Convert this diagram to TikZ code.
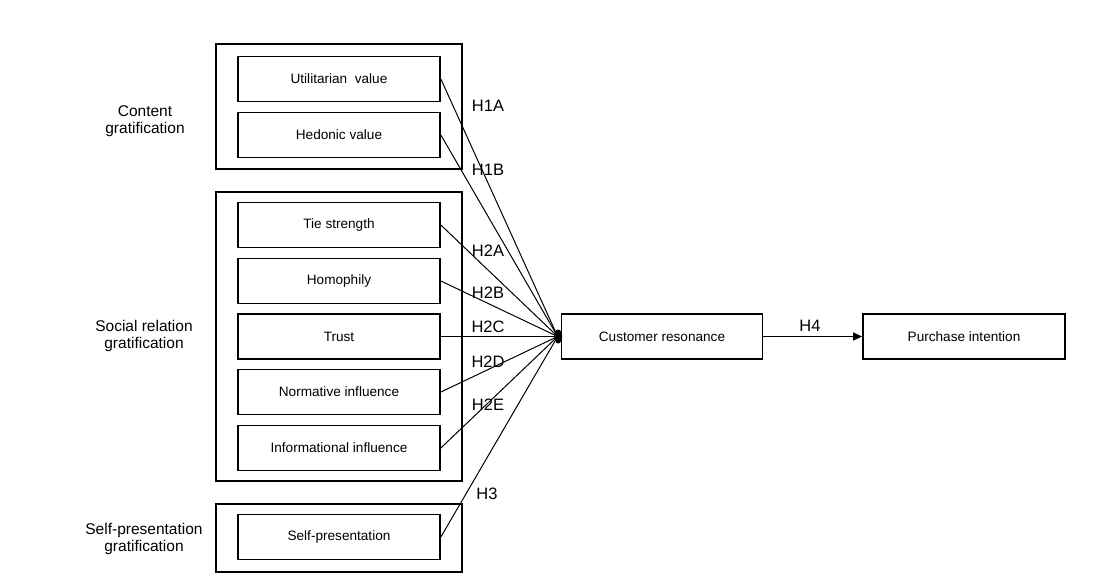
\documentclass[tikz,border=0pt]{standalone}
\usepackage{fontspec}
\setmainfont{Liberation Sans}
\usetikzlibrary{arrows.meta}
\begin{document}
\begin{tikzpicture}[x=1pt,y=-1pt,
  innerbox/.style={draw, line width=1.7pt, minimum width=202pt, minimum height=45pt, inner sep=0pt, font=\fontsize{13.6}{15}\selectfont},
  outerbox/.style={draw, line width=1.7pt},
  grouplabel/.style={align=center, font=\fontsize{15.5}{17.5}\selectfont},
  hlabel/.style={font=\fontsize{16.5}{18}\selectfont},
  link/.style={line width=1pt}
]
\useasboundingbox[fill=white] (0,0) rectangle (1107,580);
% outer boxes
\draw[outerbox] (216,44) rectangle (462,169);
\draw[outerbox] (216,192) rectangle (462,481);
\draw[outerbox] (216,504) rectangle (462,572);
% group labels
\node[grouplabel] (gc) at (145,121) {Content\\gratification};
\node[grouplabel] (gs) at (144,336) {Social relation\\gratification};
\node[grouplabel] (gp) at (144,539) {Self-presentation\\gratification};
% inner boxes
\node[innerbox] (util) at (339,79) {Utilitarian\ \ value};
\node[innerbox] (hed) at (339,135) {Hedonic value};
\node[innerbox] (tie) at (339,225) {Tie strength};
\node[innerbox] (hom) at (339,281) {Homophily};
\node[innerbox] (tru) at (339,336.5) {Trust};
\node[innerbox] (nor) at (339,392) {Normative influence};
\node[innerbox] (inf) at (339,448) {Informational influence};
\node[innerbox] (sel) at (339,537) {Self-presentation};
% right boxes
\node[innerbox, minimum width=201pt] (cr) at (662,336.5) {Customer resonance};
\node[innerbox] (pi) at (964,336.5) {Purchase intention};
\coordinate (hub) at ([xshift=-3pt]cr.west);
% connectors
\foreach \n in {util,hed,tie,hom,tru,nor,inf,sel}{
  \draw[link] (\n.east) -- (hub);
}
\fill ([xshift=-2.5pt]cr.west) ellipse [x radius=4pt, y radius=7pt];
\draw[link, -{Triangle[length=9pt,width=8pt]}] (cr.east) -- (pi.west);
% hypothesis labels
\node[hlabel] (h1a) at (488,106) {H1A};
\node[hlabel] (h1b) at (488,170) {H1B};
\node[hlabel] (h2a) at (488,251) {H2A};
\node[hlabel] (h2b) at (488,293) {H2B};
\node[hlabel] (h2c) at (488,327) {H2C};
\node[hlabel] (h2d) at (488,362) {H2D};
\node[hlabel] (h2e) at (488,405) {H2E};
\node[hlabel] (h3) at (487,494) {H3};
\node[hlabel] (h4) at (810,326) {H4};
\end{tikzpicture}
\end{document}
